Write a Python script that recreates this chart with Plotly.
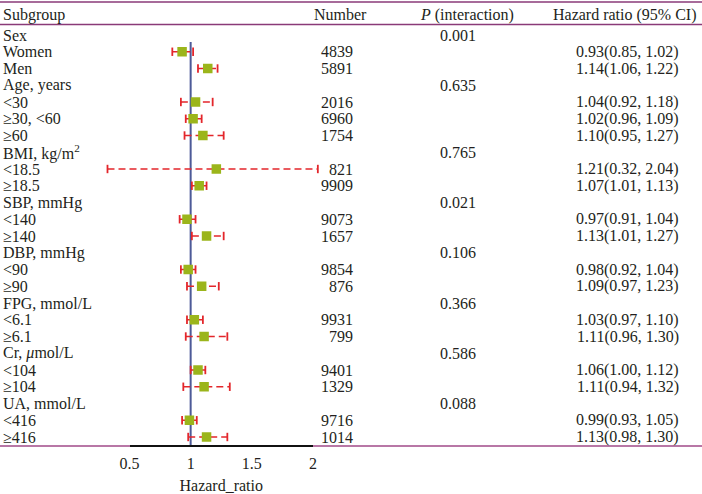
import plotly.graph_objects as go

# ---------------- data ----------------
row_labels = ["Sex", "Women", "Men",
              "Age, years", "&lt;30", "≥30, &lt;60", "≥60",
              "BMI, kg/m<sup>2</sup>", "&lt;18.5", "≥18.5",
              "SBP, mmHg", "&lt;140", "≥140",
              "DBP, mmHg", "&lt;90", "≥90",
              "FPG, mmol/L", "&lt;6.1", "≥6.1",
              "Cr, <i>μ</i>mol/L", "&lt;104", "≥104",
              "UA, mmol/L", "&lt;416", "≥416"]
numbers = [None, 4839, 5891,
           None, 2016, 6960, 1754,
           None, 821, 9909,
           None, 9073, 1657,
           None, 9854, 876,
           None, 9931, 799,
           None, 9401, 1329,
           None, 9716, 1014]
p_interaction = ["0.001", None, None,
                 "0.635", None, None, None,
                 "0.765", None, None,
                 "0.021", None, None,
                 "0.106", None, None,
                 "0.366", None, None,
                 "0.586", None, None,
                 "0.088", None, None]
hr = [None, 0.93, 1.14,
      None, 1.04, 1.02, 1.10,
      None, 1.21, 1.07,
      None, 0.97, 1.13,
      None, 0.98, 1.09,
      None, 1.03, 1.11,
      None, 1.06, 1.11,
      None, 0.99, 1.13]
ci_low = [None, 0.85, 1.06,
          None, 0.92, 0.96, 0.95,
          None, 0.32, 1.01,
          None, 0.91, 1.01,
          None, 0.92, 0.97,
          None, 0.97, 0.96,
          None, 1.00, 0.94,
          None, 0.93, 0.98]
ci_high = [None, 1.02, 1.22,
           None, 1.18, 1.09, 1.27,
           None, 2.04, 1.13,
           None, 1.04, 1.27,
           None, 1.04, 1.23,
           None, 1.10, 1.30,
           None, 1.12, 1.32,
           None, 1.05, 1.30]
x_ticks = [0.5, 1, 1.5, 2]
x_tick_labels = ["0.5", "1", "1.5", "2"]
headers = ["Subgroup", "Number", "<i>P</i> (interaction)", "Hazard ratio (95% CI)"]

# ---------------- geometry ----------------
W, H = 702, 494
FONT = "Liberation Serif"
FS = 16
TXT = "#231f20"
RULE = "#8a3a78"

row_y = [i + 1 for i in range(len(row_labels))]
header_y = -0.22


def px_to_row(p):
    return 1 + (p - 35) / 16.75


px_per_unit = 122.3
px_half = 129.5
x_left = 0.5 - px_half / px_per_unit
x_right = 0.5 + (W - px_half) / px_per_unit


def ppx(p):
    return p / W


def ppy(p):
    return 1 - p / H


fig = go.Figure()

# CI lines (dashed)
cx, cy = [], []
for y, lo, hi in zip(row_y, ci_low, ci_high):
    if lo is None:
        continue
    cx += [lo, hi, None]
    cy += [y, y, None]
fig.add_trace(go.Scatter(x=cx, y=cy, mode="lines",
                         line=dict(color="#e3262b", width=1.6, dash="7px,4px"),
                         hoverinfo="skip", showlegend=False))
# caps
capx, capy = [], []
for y, lo, hi in zip(row_y, ci_low, ci_high):
    if lo is None:
        continue
    capx += [lo, hi]
    capy += [y, y]
fig.add_trace(go.Scatter(x=capx, y=capy, mode="markers",
                         marker=dict(symbol="line-ns", size=6,
                                     line=dict(color="#e3262b", width=1.8)),
                         hoverinfo="skip", showlegend=False))
# point estimates
px_, py_ = [], []
for y, v in zip(row_y, hr):
    if v is None:
        continue
    px_.append(v)
    py_.append(y)
fig.add_trace(go.Scatter(x=px_, y=py_, mode="markers",
                         marker=dict(symbol="square", size=9.5, color="#9bb51b",
                                     line=dict(width=0)),
                         hoverinfo="skip", showlegend=False))
# dummy trace for the visible axis
fig.add_trace(go.Scatter(x=x_ticks, y=[None] * len(x_ticks), xaxis="x2", yaxis="y",
                         mode="markers", hoverinfo="skip", showlegend=False))

ann = []


def add_text(text, xp, y, anchor):
    ann.append(dict(text=text, x=ppx(xp), y=y, xref="paper", yref="y",
                    xanchor=anchor, yanchor="middle", showarrow=False,
                    font=dict(family=FONT, size=FS, color=TXT)))


# headers
add_text(headers[0], 1, header_y, "left")
add_text(headers[1], 312, header_y, "left")
add_text(headers[2], 467, header_y, "center")
add_text(headers[3], 699, header_y, "right")

for y, lab, n, p, h, lo, hi in zip(row_y, row_labels, numbers, p_interaction, hr, ci_low, ci_high):
    add_text(lab, 1, y, "left")
    if n is not None:
        add_text(str(n), 355, y, "right")
    if p is not None:
        add_text(p, 438, y, "left")
    if h is not None:
        add_text(f"{h:.2f}({lo:.2f}, {hi:.2f})", 681, y, "right")

shapes = [
    dict(type="line", xref="paper", yref="paper", x0=0, x1=1, y0=ppy(2), y1=ppy(2),
         line=dict(color=RULE, width=1.5), layer="below"),
    dict(type="line", xref="paper", yref="paper", x0=0, x1=1, y0=ppy(24.5), y1=ppy(24.5),
         line=dict(color=RULE, width=1.5), layer="below"),
    dict(type="line", xref="paper", yref="paper", x0=0, x1=1, y0=ppy(446), y1=ppy(446),
         line=dict(color="#a04a88", width=1.5), layer="below"),
    dict(type="line", xref="x", yref="paper", x0=1, x1=1, y0=ppy(446), y1=ppy(42),
         line=dict(color="#4d5a98", width=2), layer="below"),
]

fig.update_layout(
    width=W, height=H,
    margin=dict(l=0, r=0, t=0, b=0, pad=0, autoexpand=False),
    paper_bgcolor="white", plot_bgcolor="rgba(0,0,0,0)",
    showlegend=False,
    font=dict(family=FONT, size=FS, color=TXT),
    xaxis=dict(domain=[0, 1], range=[x_left, x_right], visible=False, fixedrange=True),
    yaxis=dict(domain=[0, 1], range=[px_to_row(H), px_to_row(0)], visible=False, fixedrange=True),
    xaxis2=dict(domain=[ppx(129.5), ppx(313)], range=[0.5, 2], anchor="free",
                position=ppy(446), showline=True, linecolor="#111111", linewidth=2,
                tickvals=x_ticks, ticktext=x_tick_labels, ticks="outside", ticklen=3,
                tickcolor="rgba(0,0,0,0)", showgrid=False,
                zeroline=False, fixedrange=True, automargin=False,
                tickfont=dict(family=FONT, size=FS, color=TXT),
                title=dict(text="Hazard_ratio", font=dict(family=FONT, size=FS, color=TXT),
                           standoff=10)),
    shapes=shapes,
    annotations=ann,
)

fig.write_html("out.html", config={"displayModeBar": False, "staticPlot": True},
               post_script="document.body.style.margin='0';")
